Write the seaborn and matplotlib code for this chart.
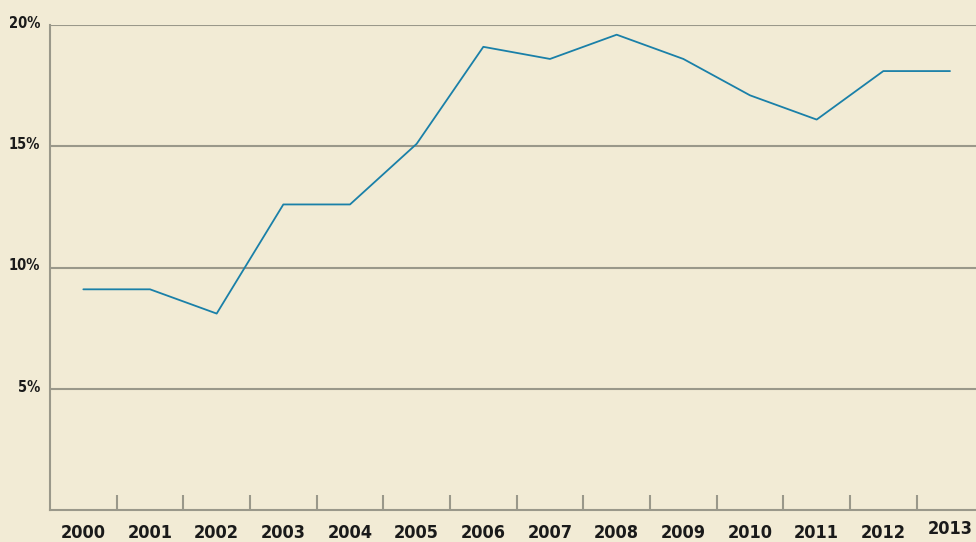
import numpy as np
import pandas as pd
import seaborn as sns
import matplotlib.pyplot as plt
import matplotlib.transforms as mtrans

years = ['2000', '2001', '2002', '2003', '2004', '2005', '2006',
         '2007', '2008', '2009', '2010', '2011', '2012', '2013']
share = [9.1, 9.1, 8.1, 12.6, 12.6, 15.1, 19.1,
         18.6, 19.6, 18.6, 17.1, 16.1, 18.1, 18.1]
y_ticks = [5, 10, 15, 20]
y_labels = ['5%', '10%', '15%', '20%']

bg = '#F2EBD5'
grid_col = '#9A988A'
line_col = '#1A80A8'

sns.set_theme(style='white')
plt.rcParams['font.family'] = ['DejaVu Sans']

df = pd.DataFrame({'pos': np.arange(len(years)), 'share': share})

fig = plt.figure(figsize=(9.76, 5.42), dpi=100, facecolor=bg)
ax = fig.add_axes([50 / 976, 32 / 542, 926 / 976, 485 / 542])
ax.set_facecolor(bg)

sns.lineplot(data=df, x='pos', y='share', color=line_col, linewidth=1.3, ax=ax)

ax.set_ylim(0, 20)
ax.set_xlim(-0.5, 13.39)

for v in y_ticks:
    ax.axhline(v, color=grid_col, linewidth=1.5, zorder=0)

ax.set_yticks(y_ticks)
ax.set_yticklabels(y_labels, fontsize=10.5, fontweight='bold',
                   fontstretch='condensed', color='#1a1a1a')
ax.tick_params(axis='y', length=0, pad=7)
up = mtrans.ScaledTranslation(0, 3 / 100, fig.dpi_scale_trans)
for lbl in ax.get_yticklabels():
    lbl.set_transform(lbl.get_transform() + up)

ax.set_xticks(np.arange(len(years)))
ax.set_xticklabels(years, fontsize=13, fontweight='bold',
                   fontstretch='condensed', color='#1a1a1a')
ax.tick_params(axis='x', which='major', length=0, pad=10)
ax.set_xticks(np.arange(len(years) - 1) + 0.5, minor=True)
ax.tick_params(axis='x', which='minor', bottom=True, direction='in',
               length=11, width=1.5, color=grid_col)

# last year label sits a little higher
last = ax.get_xticklabels()[-1]
shift = mtrans.ScaledTranslation(0, 4 / 100, fig.dpi_scale_trans)
last.set_transform(last.get_transform() + shift)

for side in ['top', 'right']:
    ax.spines[side].set_visible(False)
for side in ['left', 'bottom']:
    ax.spines[side].set_color(grid_col)
    ax.spines[side].set_linewidth(1.5)

ax.set_xlabel('')
ax.set_ylabel('')

fig.savefig('out.png', dpi=100, facecolor=bg)
